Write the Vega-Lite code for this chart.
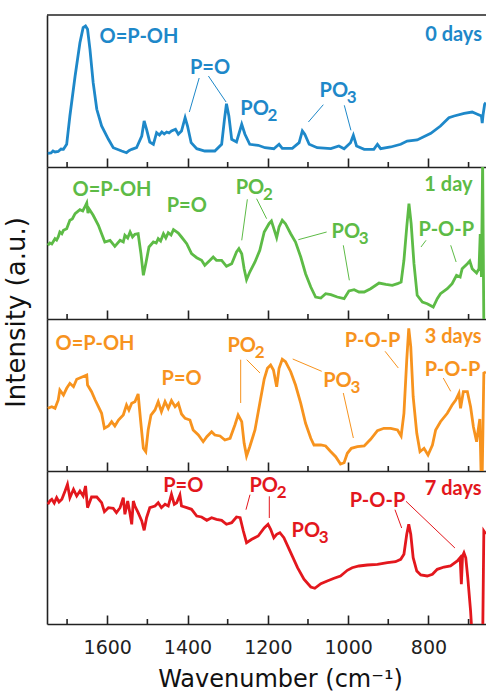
{
  "$schema": "https://vega.github.io/schema/vega-lite/v6.json",
  "background": "white",
  "padding": {"left": 3, "top": 14, "right": 0, "bottom": 0},
  "spacing": 0,
  "bounds": "flush",
  "config": {
    "view": {"stroke": null},
    "axis": {"grid": false, "domainColor": "#222", "domainWidth": 1.6, "tickColor": "#222", "tickWidth": 1.6},
    "text": {"font": "Lato", "fontWeight": "bold"}
  },
  "datasets": {
    "minor": [{"wn":700},{"wn":900},{"wn":1100},{"wn":1300},{"wn":1500},{"wn":1700}],
    "spec": [
      {"d":"0","wn":1748,"v":13.7},{"d":"0","wn":1740,"v":14},{"d":"0","wn":1735,"v":16},{"d":"0","wn":1730,"v":15},{"d":"0","wn":1722,"v":15.5},{"d":"0","wn":1715,"v":18},{"d":"0","wn":1709,"v":17.7},{"d":"0","wn":1701,"v":22.7},{"d":"0","wn":1693,"v":51},{"d":"0","wn":1680,"v":91},{"d":"0","wn":1668,"v":124.3},{"d":"0","wn":1660,"v":139.3},{"d":"0","wn":1654,"v":141},{"d":"0","wn":1649,"v":137.7},{"d":"0","wn":1643,"v":117.7},{"d":"0","wn":1635,"v":84.3},{"d":"0","wn":1626,"v":57.7},{"d":"0","wn":1614,"v":41},{"d":"0","wn":1597,"v":27.7},{"d":"0","wn":1585,"v":19.3},{"d":"0","wn":1564,"v":16},{"d":"0","wn":1552,"v":14.3},{"d":"0","wn":1545,"v":16.5},{"d":"0","wn":1539,"v":17.7},{"d":"0","wn":1527,"v":19.3},{"d":"0","wn":1514,"v":31},{"d":"0","wn":1508,"v":46},{"d":"0","wn":1502,"v":37.7},{"d":"0","wn":1494,"v":25},{"d":"0","wn":1485,"v":22.7},{"d":"0","wn":1477,"v":34.3},{"d":"0","wn":1470,"v":32},{"d":"0","wn":1464,"v":35},{"d":"0","wn":1458,"v":33},{"d":"0","wn":1452,"v":35},{"d":"0","wn":1446,"v":34},{"d":"0","wn":1440,"v":36},{"d":"0","wn":1430,"v":37.7},{"d":"0","wn":1423,"v":32.7},{"d":"0","wn":1415,"v":36},{"d":"0","wn":1406,"v":49.3},{"d":"0","wn":1400,"v":41},{"d":"0","wn":1391,"v":24.3},{"d":"0","wn":1377,"v":18.3},{"d":"0","wn":1357,"v":16},{"d":"0","wn":1332,"v":16},{"d":"0","wn":1315,"v":22.7},{"d":"0","wn":1308,"v":47.7},{"d":"0","wn":1303,"v":63.3},{"d":"0","wn":1297,"v":51},{"d":"0","wn":1290,"v":27.7},{"d":"0","wn":1278,"v":25},{"d":"0","wn":1265,"v":42.7},{"d":"0","wn":1257,"v":32.7},{"d":"0","wn":1245,"v":22.7},{"d":"0","wn":1224,"v":21.7},{"d":"0","wn":1207,"v":19.3},{"d":"0","wn":1185,"v":18.3},{"d":"0","wn":1172,"v":22.7},{"d":"0","wn":1164,"v":18.7},{"d":"0","wn":1139,"v":18.7},{"d":"0","wn":1122,"v":24.3},{"d":"0","wn":1114,"v":36},{"d":"0","wn":1108,"v":32.7},{"d":"0","wn":1097,"v":22.7},{"d":"0","wn":1077,"v":19.3},{"d":"0","wn":1043,"v":18.3},{"d":"0","wn":1023,"v":21},{"d":"0","wn":1010,"v":18.3},{"d":"0","wn":994,"v":24.3},{"d":"0","wn":987,"v":31.7},{"d":"0","wn":979,"v":21},{"d":"0","wn":960,"v":17.7},{"d":"0","wn":936,"v":17.7},{"d":"0","wn":927,"v":22.7},{"d":"0","wn":919,"v":18.3},{"d":"0","wn":894,"v":20},{"d":"0","wn":869,"v":22.7},{"d":"0","wn":853,"v":26},{"d":"0","wn":828,"v":27},{"d":"0","wn":794,"v":33.7},{"d":"0","wn":770,"v":41},{"d":"0","wn":749,"v":49.3},{"d":"0","wn":736,"v":51},{"d":"0","wn":711,"v":53.7},{"d":"0","wn":691,"v":55},{"d":"0","wn":678,"v":52.7},{"d":"0","wn":668,"v":51},{"d":"0","wn":666,"v":44},{"d":"0","wn":664,"v":52},{"d":"0","wn":660,"v":62.7},{"d":"0","wn":657,"v":64.3},

      {"d":"1","wn":1748,"v":73.7},{"d":"1","wn":1743,"v":76},{"d":"1","wn":1738,"v":75},{"d":"1","wn":1730,"v":80.3},{"d":"1","wn":1726,"v":79},{"d":"1","wn":1722,"v":82},{"d":"1","wn":1718,"v":87},{"d":"1","wn":1713,"v":85.3},{"d":"1","wn":1709,"v":88.7},{"d":"1","wn":1701,"v":90.3},{"d":"1","wn":1693,"v":98.7},{"d":"1","wn":1687,"v":100},{"d":"1","wn":1680,"v":105.3},{"d":"1","wn":1668,"v":109.3},{"d":"1","wn":1661,"v":108},{"d":"1","wn":1655,"v":112.7},{"d":"1","wn":1651,"v":116},{"d":"1","wn":1648,"v":106},{"d":"1","wn":1645,"v":110},{"d":"1","wn":1635,"v":103.7},{"d":"1","wn":1622,"v":93.7},{"d":"1","wn":1614,"v":85.3},{"d":"1","wn":1606,"v":77},{"d":"1","wn":1593,"v":78.7},{"d":"1","wn":1581,"v":72.7},{"d":"1","wn":1568,"v":78.7},{"d":"1","wn":1560,"v":77},{"d":"1","wn":1556,"v":83.7},{"d":"1","wn":1549,"v":81},{"d":"1","wn":1543,"v":87},{"d":"1","wn":1537,"v":82},{"d":"1","wn":1531,"v":84.7},{"d":"1","wn":1523,"v":85.3},{"d":"1","wn":1516,"v":65.3},{"d":"1","wn":1510,"v":43.7},{"d":"1","wn":1504,"v":55.3},{"d":"1","wn":1496,"v":72},{"d":"1","wn":1485,"v":77},{"d":"1","wn":1478,"v":76},{"d":"1","wn":1473,"v":80.3},{"d":"1","wn":1467,"v":78},{"d":"1","wn":1460,"v":85.3},{"d":"1","wn":1454,"v":81},{"d":"1","wn":1448,"v":86.3},{"d":"1","wn":1441,"v":84},{"d":"1","wn":1435,"v":89.3},{"d":"1","wn":1423,"v":86},{"d":"1","wn":1415,"v":82},{"d":"1","wn":1402,"v":75.3},{"d":"1","wn":1390,"v":65.3},{"d":"1","wn":1377,"v":61.3},{"d":"1","wn":1365,"v":58.7},{"d":"1","wn":1357,"v":53.7},{"d":"1","wn":1344,"v":58.7},{"d":"1","wn":1336,"v":62},{"d":"1","wn":1328,"v":58.7},{"d":"1","wn":1315,"v":58.7},{"d":"1","wn":1303,"v":52.7},{"d":"1","wn":1290,"v":55.3},{"d":"1","wn":1278,"v":67},{"d":"1","wn":1272,"v":70.3},{"d":"1","wn":1265,"v":65.3},{"d":"1","wn":1259,"v":50.3},{"d":"1","wn":1253,"v":39.3},{"d":"1","wn":1245,"v":47},{"d":"1","wn":1232,"v":57},{"d":"1","wn":1220,"v":68.7},{"d":"1","wn":1209,"v":87},{"d":"1","wn":1197,"v":95.3},{"d":"1","wn":1191,"v":98},{"d":"1","wn":1185,"v":90.3},{"d":"1","wn":1178,"v":81.3},{"d":"1","wn":1172,"v":92},{"d":"1","wn":1164,"v":98.7},{"d":"1","wn":1156,"v":95.3},{"d":"1","wn":1143,"v":85.3},{"d":"1","wn":1131,"v":77},{"d":"1","wn":1118,"v":62},{"d":"1","wn":1106,"v":45.3},{"d":"1","wn":1093,"v":32},{"d":"1","wn":1081,"v":22},{"d":"1","wn":1068,"v":21},{"d":"1","wn":1056,"v":25.3},{"d":"1","wn":1043,"v":24.3},{"d":"1","wn":1027,"v":22},{"d":"1","wn":1010,"v":20.3},{"d":"1","wn":998,"v":28},{"d":"1","wn":985,"v":29.3},{"d":"1","wn":973,"v":27},{"d":"1","wn":960,"v":27},{"d":"1","wn":944,"v":30.3},{"d":"1","wn":923,"v":36},{"d":"1","wn":906,"v":34.7},{"d":"1","wn":890,"v":33.7},{"d":"1","wn":877,"v":35.3},{"d":"1","wn":868,"v":37},{"d":"1","wn":861,"v":58.7},{"d":"1","wn":854,"v":92},{"d":"1","wn":848.5,"v":115.3},{"d":"1","wn":843,"v":95.3},{"d":"1","wn":836,"v":55.3},{"d":"1","wn":828,"v":23.7},{"d":"1","wn":815,"v":17},{"d":"1","wn":803,"v":15.3},{"d":"1","wn":788,"v":12},{"d":"1","wn":778,"v":20.3},{"d":"1","wn":770,"v":25.3},{"d":"1","wn":753,"v":30.3},{"d":"1","wn":741,"v":35.3},{"d":"1","wn":730,"v":43.7},{"d":"1","wn":721,"v":42},{"d":"1","wn":716,"v":50.3},{"d":"1","wn":703,"v":55.3},{"d":"1","wn":697,"v":58},{"d":"1","wn":691,"v":50.3},{"d":"1","wn":680,"v":46},{"d":"1","wn":674,"v":50.3},{"d":"1","wn":671,"v":85},{"d":"1","wn":668,"v":42},{"d":"1","wn":665,"v":158},{"d":"1","wn":662,"v":-6},

      {"d":"3","wn":1748,"v":62.7},{"d":"3","wn":1738,"v":64.3},{"d":"3","wn":1730,"v":62.7},{"d":"3","wn":1722,"v":71},{"d":"3","wn":1718,"v":81},{"d":"3","wn":1709,"v":76},{"d":"3","wn":1701,"v":82.7},{"d":"3","wn":1693,"v":87.7},{"d":"3","wn":1684,"v":84.3},{"d":"3","wn":1676,"v":91.7},{"d":"3","wn":1664,"v":93.7},{"d":"3","wn":1651,"v":96},{"d":"3","wn":1649,"v":86},{"d":"3","wn":1639,"v":79.3},{"d":"3","wn":1630,"v":71},{"d":"3","wn":1622,"v":64.3},{"d":"3","wn":1614,"v":57.7},{"d":"3","wn":1607,"v":42.7},{"d":"3","wn":1597,"v":45},{"d":"3","wn":1589,"v":49.3},{"d":"3","wn":1581,"v":45},{"d":"3","wn":1572,"v":51},{"d":"3","wn":1560,"v":56},{"d":"3","wn":1552,"v":66},{"d":"3","wn":1546,"v":61},{"d":"3","wn":1539,"v":67.7},{"d":"3","wn":1531,"v":69.3},{"d":"3","wn":1523,"v":77},{"d":"3","wn":1517,"v":51},{"d":"3","wn":1510,"v":22.7},{"d":"3","wn":1504,"v":19.3},{"d":"3","wn":1498,"v":41},{"d":"3","wn":1491,"v":56},{"d":"3","wn":1481,"v":61},{"d":"3","wn":1473,"v":69.3},{"d":"3","wn":1465,"v":59.3},{"d":"3","wn":1456,"v":69.3},{"d":"3","wn":1448,"v":62.7},{"d":"3","wn":1440,"v":70.3},{"d":"3","wn":1431,"v":64.3},{"d":"3","wn":1423,"v":67.7},{"d":"3","wn":1415,"v":57},{"d":"3","wn":1406,"v":52.7},{"d":"3","wn":1394,"v":51},{"d":"3","wn":1386,"v":41},{"d":"3","wn":1373,"v":36},{"d":"3","wn":1361,"v":29.3},{"d":"3","wn":1352,"v":34.3},{"d":"3","wn":1340,"v":39.3},{"d":"3","wn":1332,"v":36},{"d":"3","wn":1319,"v":35},{"d":"3","wn":1307,"v":31},{"d":"3","wn":1294,"v":32.7},{"d":"3","wn":1282,"v":46},{"d":"3","wn":1274,"v":56},{"d":"3","wn":1265,"v":49.3},{"d":"3","wn":1259,"v":27.7},{"d":"3","wn":1253,"v":15},{"d":"3","wn":1245,"v":24.3},{"d":"3","wn":1232,"v":41},{"d":"3","wn":1220,"v":67.7},{"d":"3","wn":1209,"v":92},{"d":"3","wn":1201,"v":102.7},{"d":"3","wn":1193,"v":106},{"d":"3","wn":1186,"v":101},{"d":"3","wn":1178,"v":84.3},{"d":"3","wn":1172,"v":102.7},{"d":"3","wn":1164,"v":111.7},{"d":"3","wn":1156,"v":109.3},{"d":"3","wn":1143,"v":99.3},{"d":"3","wn":1131,"v":86},{"d":"3","wn":1118,"v":67.7},{"d":"3","wn":1106,"v":47.7},{"d":"3","wn":1093,"v":32.7},{"d":"3","wn":1085,"v":26},{"d":"3","wn":1068,"v":26},{"d":"3","wn":1056,"v":25},{"d":"3","wn":1043,"v":19.3},{"d":"3","wn":1031,"v":14.3},{"d":"3","wn":1019,"v":7},{"d":"3","wn":1010,"v":8.3},{"d":"3","wn":1002,"v":17.7},{"d":"3","wn":992,"v":22.7},{"d":"3","wn":977,"v":24.3},{"d":"3","wn":960,"v":25},{"d":"3","wn":944,"v":31.7},{"d":"3","wn":927,"v":40.3},{"d":"3","wn":911,"v":42.7},{"d":"3","wn":894,"v":42.7},{"d":"3","wn":877,"v":41},{"d":"3","wn":868,"v":35},{"d":"3","wn":861,"v":57.7},{"d":"3","wn":854,"v":111},{"d":"3","wn":849,"v":142.7},{"d":"3","wn":844,"v":124.3},{"d":"3","wn":838,"v":74.3},{"d":"3","wn":829,"v":37.7},{"d":"3","wn":821,"v":19.3},{"d":"3","wn":811,"v":22.7},{"d":"3","wn":801,"v":16},{"d":"3","wn":790,"v":26},{"d":"3","wn":782,"v":41},{"d":"3","wn":770,"v":49.3},{"d":"3","wn":753,"v":57.7},{"d":"3","wn":741,"v":66},{"d":"3","wn":732,"v":71},{"d":"3","wn":724,"v":77.7},{"d":"3","wn":720,"v":62.7},{"d":"3","wn":713,"v":79.3},{"d":"3","wn":703,"v":79.3},{"d":"3","wn":695,"v":64.3},{"d":"3","wn":688,"v":44.3},{"d":"3","wn":680,"v":29.3},{"d":"3","wn":676,"v":41},{"d":"3","wn":672,"v":52},{"d":"3","wn":669,"v":0},{"d":"3","wn":666,"v":-3},{"d":"3","wn":662,"v":98},{"d":"3","wn":657,"v":99},

      {"d":"7","wn":1748,"v":119.7},{"d":"7","wn":1743,"v":123},{"d":"7","wn":1738,"v":124.7},{"d":"7","wn":1732,"v":121},{"d":"7","wn":1726,"v":126.3},{"d":"7","wn":1720,"v":122},{"d":"7","wn":1713,"v":124.7},{"d":"7","wn":1705,"v":133},{"d":"7","wn":1699,"v":139.7},{"d":"7","wn":1693,"v":126.3},{"d":"7","wn":1684,"v":134.7},{"d":"7","wn":1676,"v":128},{"d":"7","wn":1668,"v":133},{"d":"7","wn":1660,"v":128},{"d":"7","wn":1654,"v":138},{"d":"7","wn":1649,"v":116.3},{"d":"7","wn":1639,"v":127},{"d":"7","wn":1626,"v":127},{"d":"7","wn":1614,"v":121.3},{"d":"7","wn":1607,"v":112.3},{"d":"7","wn":1597,"v":116.3},{"d":"7","wn":1585,"v":115.7},{"d":"7","wn":1577,"v":111.3},{"d":"7","wn":1568,"v":116.3},{"d":"7","wn":1560,"v":126.3},{"d":"7","wn":1556,"v":109.7},{"d":"7","wn":1549,"v":123},{"d":"7","wn":1543,"v":109.7},{"d":"7","wn":1539,"v":99.7},{"d":"7","wn":1535,"v":123},{"d":"7","wn":1531,"v":118},{"d":"7","wn":1523,"v":111.3},{"d":"7","wn":1514,"v":103},{"d":"7","wn":1508,"v":93.7},{"d":"7","wn":1502,"v":106.3},{"d":"7","wn":1494,"v":116.3},{"d":"7","wn":1481,"v":118},{"d":"7","wn":1473,"v":121.3},{"d":"7","wn":1465,"v":116.3},{"d":"7","wn":1456,"v":119.7},{"d":"7","wn":1448,"v":118},{"d":"7","wn":1440,"v":129.7},{"d":"7","wn":1433,"v":119.7},{"d":"7","wn":1427,"v":121.3},{"d":"7","wn":1419,"v":129},{"d":"7","wn":1415,"v":118},{"d":"7","wn":1402,"v":116.3},{"d":"7","wn":1390,"v":114.7},{"d":"7","wn":1377,"v":108},{"d":"7","wn":1365,"v":107},{"d":"7","wn":1352,"v":103.7},{"d":"7","wn":1340,"v":106.3},{"d":"7","wn":1328,"v":104.7},{"d":"7","wn":1315,"v":103.7},{"d":"7","wn":1303,"v":99.7},{"d":"7","wn":1290,"v":101.3},{"d":"7","wn":1278,"v":107},{"d":"7","wn":1269,"v":106.3},{"d":"7","wn":1261,"v":93},{"d":"7","wn":1253,"v":81.3},{"d":"7","wn":1240,"v":84.7},{"d":"7","wn":1224,"v":88},{"d":"7","wn":1209,"v":96},{"d":"7","wn":1199.5,"v":99.7},{"d":"7","wn":1193,"v":94.7},{"d":"7","wn":1185,"v":86.3},{"d":"7","wn":1178,"v":89.7},{"d":"7","wn":1170,"v":91.3},{"d":"7","wn":1160,"v":86.3},{"d":"7","wn":1143,"v":71.3},{"d":"7","wn":1126,"v":56.3},{"d":"7","wn":1110,"v":44.7},{"d":"7","wn":1093,"v":37},{"d":"7","wn":1083,"v":35.7},{"d":"7","wn":1068,"v":40.3},{"d":"7","wn":1052,"v":43},{"d":"7","wn":1035,"v":45.7},{"d":"7","wn":1019,"v":48},{"d":"7","wn":1002,"v":53.7},{"d":"7","wn":990,"v":56.3},{"d":"7","wn":973,"v":58},{"d":"7","wn":952,"v":59},{"d":"7","wn":927,"v":59.7},{"d":"7","wn":902,"v":61.3},{"d":"7","wn":882,"v":62.3},{"d":"7","wn":869,"v":64.7},{"d":"7","wn":861,"v":69.7},{"d":"7","wn":854,"v":89.7},{"d":"7","wn":849,"v":99.7},{"d":"7","wn":844,"v":89.7},{"d":"7","wn":838,"v":66.3},{"d":"7","wn":829,"v":53},{"d":"7","wn":819,"v":49},{"d":"7","wn":803,"v":48},{"d":"7","wn":790,"v":49.7},{"d":"7","wn":778,"v":54.7},{"d":"7","wn":761,"v":57},{"d":"7","wn":745,"v":58},{"d":"7","wn":728,"v":63},{"d":"7","wn":721,"v":66.3},{"d":"7","wn":718,"v":39.7},{"d":"7","wn":715,"v":68},{"d":"7","wn":711.5,"v":71.3},{"d":"7","wn":707,"v":66.3},{"d":"7","wn":702,"v":46.3},{"d":"7","wn":695,"v":13},{"d":"7","wn":690,"v":-20},{"d":"7","wn":665,"v":-20},{"d":"7","wn":662,"v":93},{"d":"7","wn":657,"v":90}
    ],
    "lead": [
      {"d":"0","wn":1371,"v":89,"wn2":1395.5,"v2":55},{"d":"0","wn":1348,"v":91,"wn2":1304,"v2":65},{"d":"0","wn":1061.8,"v":62.3,"wn2":1099,"v2":45},{"d":"0","wn":1009.5,"v":61.7,"wn2":993,"v2":36.7},
      {"d":"1","wn":1251,"v":119.7,"wn2":1265,"v2":78.7},{"d":"1","wn":1228,"v":120.3,"wn2":1203,"v2":100.3},{"d":"1","wn":1053.5,"v":87,"wn2":1124,"v2":79.3},{"d":"1","wn":1012,"v":73.7,"wn2":997,"v2":38.7},{"d":"1","wn":806,"v":78.7,"wn2":818.5,"v2":72},{"d":"1","wn":744.5,"v":73.7,"wn2":731,"v2":57},
      {"d":"3","wn":1267.6,"v":111.3,"wn2":1267.6,"v2":68},{"d":"3","wn":1252.6,"v":111.3,"wn2":1219.5,"v2":98},{"d":"3","wn":1065.8,"v":99.7,"wn2":1138,"v2":112},{"d":"3","wn":1012,"v":78,"wn2":987,"v2":33},{"d":"3","wn":908,"v":119.7,"wn2":875,"v2":103},{"d":"3","wn":763,"v":93,"wn2":744.5,"v2":79.7},
      {"d":"7","wn":1244.4,"v":129.3,"wn2":1254.4,"v2":114.3},{"d":"7","wn":1196.3,"v":127.7,"wn2":1196.3,"v2":106},{"d":"7","wn":883.3,"v":114.3,"wn2":866.6,"v2":96},{"d":"7","wn":855.8,"v":122.7,"wn2":734,"v2":76}
    ],
    "lab": [
      {"d":"0","t":"O=P-OH","sub":"","wn":1521,"v":130.5},{"d":"0","t":"P=O","sub":"","wn":1344,"v":99.5},{"d":"0","t":"PO","sub":"2","wn":1233,"v":58.3},{"d":"0","t":"PO","sub":"3","wn":1035.6,"v":76},
      {"d":"1","t":"O=P-OH","sub":"","wn":1588,"v":129.5},{"d":"1","t":"P=O","sub":"","wn":1402,"v":113},{"d":"1","t":"PO","sub":"2","wn":1244.4,"v":131.5},{"d":"1","t":"PO","sub":"3","wn":1005.8,"v":87.3},{"d":"1","t":"P-O-P","sub":"","wn":755.5,"v":88.7},
      {"d":"3","t":"O=P-OH","sub":"","wn":1630.5,"v":127.5},{"d":"3","t":"P=O","sub":"","wn":1414.6,"v":92.5},{"d":"3","t":"PO","sub":"2","wn":1265,"v":125.5},{"d":"3","t":"PO","sub":"3","wn":1026.5,"v":90.5},{"d":"3","t":"P-O-P","sub":"","wn":939,"v":130.5},{"d":"3","t":"P-O-P","sub":"","wn":740,"v":101.3},
      {"d":"7","t":"P=O","sub":"","wn":1410.6,"v":138.5},{"d":"7","t":"PO","sub":"2","wn":1210.3,"v":138.5},{"d":"7","t":"PO","sub":"3","wn":1105.4,"v":92.7},{"d":"7","t":"P-O-P","sub":"","wn":926.8,"v":123.5}
    ],
    "day": [
      {"d":"0","t":"0 days","wn":666.6,"v":132},{"d":"1","t":"1 day","wn":690,"v":134},{"d":"3","t":"3 days","wn":667.5,"v":134.5},{"d":"7","t":"7 days","wn":667.5,"v":135}
    ]
  },
  "vconcat": [
    {
      "width": 439, "height": 152,
      "layer": [
        {"data":{"name":"spec"},"transform":[{"filter":"datum.d==='0'"}],
         "mark":{"type":"line","color":"#1e88c9","strokeWidth":2.8,"clip":true},
         "encoding":{
           "x":{"field":"wn","type":"quantitative","scale":{"domain":[656.6,1750],"reverse":true,"nice":false,"zero":false},
                "axis":{"values":[800,1000,1200,1400,1600],"labels":false,"title":null,"tickSize":-9}},
           "y":{"field":"v","type":"quantitative","scale":{"domain":[0,152],"nice":false,"zero":false},"axis":{"ticks":false,"labels":false,"title":null}}}},
        {"data":{"name":"minor"},"mark":{"type":"rule","color":"#222","strokeWidth":1.6},"encoding":{"x":{"field":"wn","type":"quantitative"},"y":{"datum":0},"y2":{"datum":5}}},
        {"data":{"values":[{}]},"mark":{"type":"rule","color":"#222","strokeWidth":1.6},"encoding":{"y":{"datum":152}}},
        {"data":{"name":"lead"},"transform":[{"filter":"datum.d==='0'"}],"mark":{"type":"rule","color":"#1e88c9","strokeWidth":1},
         "encoding":{"x":{"field":"wn","type":"quantitative"},"x2":{"field":"wn2"},"y":{"field":"v","type":"quantitative"},"y2":{"field":"v2"}}},
        {"data":{"name":"lab"},"transform":[{"filter":"datum.d==='0'"}],"mark":{"type":"text","color":"#1e88c9","fontSize":20,"align":"center","baseline":"middle"},
         "encoding":{"x":{"field":"wn","type":"quantitative"},"y":{"field":"v","type":"quantitative"},"text":{"field":"t"}}},
        {"data":{"name":"lab"},"transform":[{"filter":"datum.d==='0' && datum.sub"}],"mark":{"type":"text","color":"#1e88c9","fontSize":17,"align":"left","baseline":"middle","dx":13,"dy":7},
         "encoding":{"x":{"field":"wn","type":"quantitative"},"y":{"field":"v","type":"quantitative"},"text":{"field":"sub"}}},
        {"data":{"name":"day"},"transform":[{"filter":"datum.d==='0'"}],"mark":{"type":"text","color":"#1e88c9","fontSize":20,"align":"right","baseline":"middle"},
         "encoding":{"x":{"field":"wn","type":"quantitative"},"y":{"field":"v","type":"quantitative"},"text":{"field":"t"}}}
      ]
    },
    {
      "width": 439, "height": 152,
      "layer": [
        {"data":{"name":"spec"},"transform":[{"filter":"datum.d==='1'"}],
         "mark":{"type":"line","color":"#5dbb46","strokeWidth":2.8,"clip":true},
         "encoding":{
           "x":{"field":"wn","type":"quantitative","scale":{"domain":[656.6,1750],"reverse":true,"nice":false,"zero":false},
                "axis":{"values":[800,1000,1200,1400,1600],"labels":false,"title":null,"tickSize":-9}},
           "y":{"field":"v","type":"quantitative","scale":{"domain":[0,152],"nice":false,"zero":false},
                "axis":{"ticks":false,"labels":false,"title":"Intensity (a.u.)","titleFont":"DejaVu Sans","titleFontWeight":"normal","titleFontSize":26,"titleColor":"#111","titleX":-31,"titleY":145,"titleAngle":-90,"titleAlign":"center","titleBaseline":"middle"}}}},
        {"data":{"name":"minor"},"mark":{"type":"rule","color":"#222","strokeWidth":1.6},"encoding":{"x":{"field":"wn","type":"quantitative"},"y":{"datum":0},"y2":{"datum":5}}},
        {"data":{"name":"lead"},"transform":[{"filter":"datum.d==='1'"}],"mark":{"type":"rule","color":"#5dbb46","strokeWidth":1},
         "encoding":{"x":{"field":"wn","type":"quantitative"},"x2":{"field":"wn2"},"y":{"field":"v","type":"quantitative"},"y2":{"field":"v2"}}},
        {"data":{"name":"lab"},"transform":[{"filter":"datum.d==='1'"}],"mark":{"type":"text","color":"#5dbb46","fontSize":20,"align":"center","baseline":"middle"},
         "encoding":{"x":{"field":"wn","type":"quantitative"},"y":{"field":"v","type":"quantitative"},"text":{"field":"t"}}},
        {"data":{"name":"lab"},"transform":[{"filter":"datum.d==='1' && datum.sub"}],"mark":{"type":"text","color":"#5dbb46","fontSize":17,"align":"left","baseline":"middle","dx":13,"dy":7},
         "encoding":{"x":{"field":"wn","type":"quantitative"},"y":{"field":"v","type":"quantitative"},"text":{"field":"sub"}}},
        {"data":{"name":"day"},"transform":[{"filter":"datum.d==='1'"}],"mark":{"type":"text","color":"#5dbb46","fontSize":20,"align":"right","baseline":"middle"},
         "encoding":{"x":{"field":"wn","type":"quantitative"},"y":{"field":"v","type":"quantitative"},"text":{"field":"t"}}}
      ]
    },
    {
      "width": 439, "height": 152,
      "layer": [
        {"data":{"name":"spec"},"transform":[{"filter":"datum.d==='3'"}],
         "mark":{"type":"line","color":"#f7931e","strokeWidth":2.8,"clip":true},
         "encoding":{
           "x":{"field":"wn","type":"quantitative","scale":{"domain":[656.6,1750],"reverse":true,"nice":false,"zero":false},
                "axis":{"values":[800,1000,1200,1400,1600],"labels":false,"title":null,"tickSize":-9}},
           "y":{"field":"v","type":"quantitative","scale":{"domain":[0,152],"nice":false,"zero":false},"axis":{"ticks":false,"labels":false,"title":null}}}},
        {"data":{"name":"minor"},"mark":{"type":"rule","color":"#222","strokeWidth":1.6},"encoding":{"x":{"field":"wn","type":"quantitative"},"y":{"datum":0},"y2":{"datum":5}}},
        {"data":{"name":"lead"},"transform":[{"filter":"datum.d==='3'"}],"mark":{"type":"rule","color":"#f7931e","strokeWidth":1},
         "encoding":{"x":{"field":"wn","type":"quantitative"},"x2":{"field":"wn2"},"y":{"field":"v","type":"quantitative"},"y2":{"field":"v2"}}},
        {"data":{"name":"lab"},"transform":[{"filter":"datum.d==='3'"}],"mark":{"type":"text","color":"#f7931e","fontSize":20,"align":"center","baseline":"middle"},
         "encoding":{"x":{"field":"wn","type":"quantitative"},"y":{"field":"v","type":"quantitative"},"text":{"field":"t"}}},
        {"data":{"name":"lab"},"transform":[{"filter":"datum.d==='3' && datum.sub"}],"mark":{"type":"text","color":"#f7931e","fontSize":17,"align":"left","baseline":"middle","dx":13,"dy":7},
         "encoding":{"x":{"field":"wn","type":"quantitative"},"y":{"field":"v","type":"quantitative"},"text":{"field":"sub"}}},
        {"data":{"name":"day"},"transform":[{"filter":"datum.d==='3'"}],"mark":{"type":"text","color":"#f7931e","fontSize":20,"align":"right","baseline":"middle"},
         "encoding":{"x":{"field":"wn","type":"quantitative"},"y":{"field":"v","type":"quantitative"},"text":{"field":"t"}}}
      ]
    },
    {
      "width": 439, "height": 153,
      "layer": [
        {"data":{"name":"spec"},"transform":[{"filter":"datum.d==='7'"}],
         "mark":{"type":"line","color":"#e3171d","strokeWidth":2.8,"clip":true},
         "encoding":{
           "x":{"field":"wn","type":"quantitative","scale":{"domain":[656.6,1750],"reverse":true,"nice":false,"zero":false},
                "axis":{"values":[800,1000,1200,1400,1600],"format":"d","labelFont":"DejaVu Sans","labelFontSize":19,"labelColor":"#222","labelPadding":23,
                        "title":"Wavenumber (cm⁻¹)","titleFont":"DejaVu Sans","titleFontWeight":"normal","titleFontSize":24,"titleColor":"#111","titleX":233,"titleY":62,"titleBaseline":"alphabetic",
                        "tickSize":-9}},
           "y":{"field":"v","type":"quantitative","scale":{"domain":[0,153],"nice":false,"zero":false},"axis":{"ticks":false,"labels":false,"title":null}}}},
        {"data":{"name":"minor"},"mark":{"type":"rule","color":"#222","strokeWidth":1.6},"encoding":{"x":{"field":"wn","type":"quantitative"},"y":{"datum":0},"y2":{"datum":5}}},
        {"data":{"name":"lead"},"transform":[{"filter":"datum.d==='7'"}],"mark":{"type":"rule","color":"#e3171d","strokeWidth":1},
         "encoding":{"x":{"field":"wn","type":"quantitative"},"x2":{"field":"wn2"},"y":{"field":"v","type":"quantitative"},"y2":{"field":"v2"}}},
        {"data":{"name":"lab"},"transform":[{"filter":"datum.d==='7'"}],"mark":{"type":"text","color":"#e3171d","fontSize":20,"align":"center","baseline":"middle"},
         "encoding":{"x":{"field":"wn","type":"quantitative"},"y":{"field":"v","type":"quantitative"},"text":{"field":"t"}}},
        {"data":{"name":"lab"},"transform":[{"filter":"datum.d==='7' && datum.sub"}],"mark":{"type":"text","color":"#e3171d","fontSize":17,"align":"left","baseline":"middle","dx":13,"dy":7},
         "encoding":{"x":{"field":"wn","type":"quantitative"},"y":{"field":"v","type":"quantitative"},"text":{"field":"sub"}}},
        {"data":{"name":"day"},"transform":[{"filter":"datum.d==='7'"}],"mark":{"type":"text","color":"#e3171d","fontSize":20,"align":"right","baseline":"middle"},
         "encoding":{"x":{"field":"wn","type":"quantitative"},"y":{"field":"v","type":"quantitative"},"text":{"field":"t"}}}
      ]
    }
  ]
}
